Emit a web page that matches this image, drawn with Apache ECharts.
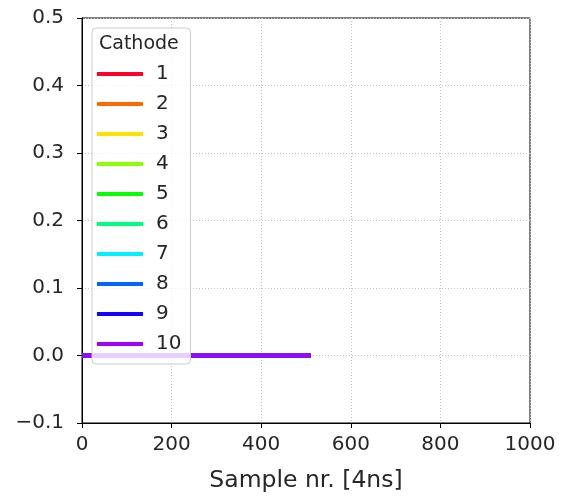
<!DOCTYPE html>
<html>
<head>
<meta charset="utf-8">
<script src="https://cdn.jsdelivr.net/npm/echarts@6/dist/echarts.min.js"></script>
<style>
  html, body { margin: 0; padding: 0; background: #fff; }
  #chart { width: 562px; height: 498px; }
</style>
</head>
<body>
<div id="chart"></div>
<script>
// Cathode channels and their trace colours
const cathodes = ['1', '2', '3', '4', '5', '6', '7', '8', '9', '10'];
const cathodeColors = ['#ff0029', '#ff6a00', '#ffe100', '#8cff00', '#0aff00',
                       '#00ff80', '#00f0ff', '#0064ff', '#1400ff', '#a400ff'];
// First and last sample of each recorded trace, and the signal level at each
const sampleNumbers = [0, 511];
const cathodeSignals = [
  [0, 0], [0, 0], [0, 0], [0, 0], [0, 0],
  [0, 0], [0, 0], [0, 0], [0, 0], [0, 0]
];
// Axis ticks
const xTicks = [0, 200, 400, 600, 800, 1000];
const yTicks = [-0.1, 0.0, 0.1, 0.2, 0.3, 0.4, 0.5];

const FONT = 'DejaVu Sans';
const TEXT = '#262626';
const LINE_W = 4;
const chart = echarts.init(document.getElementById('chart'), null, { renderer: 'canvas' });

const series = cathodes.map((name, i) => ({
  name: name,
  type: 'line',
  data: sampleNumbers.map((s, k) => [s, cathodeSignals[i][k]]),
  showSymbol: false,
  symbol: 'none',
  lineStyle: { color: cathodeColors[i], width: LINE_W },
  itemStyle: { color: cathodeColors[i] },
  animation: false,
  z: 3
}));

const gridLine = { show: true, lineStyle: { color: '#c4c4c4', type: [1, 2], width: 1 } };

chart.setOption({
  animation: false,
  backgroundColor: '#fff',
  grid: {
    left: 82, right: 32, top: 18, bottom: 75,
    show: true, borderColor: '#000', borderWidth: 1
  },
  xAxis: {
    type: 'value',
    min: xTicks[0], max: xTicks[xTicks.length - 1], interval: 200,
    name: 'Sample nr. [4ns]',
    nameLocation: 'middle',
    nameGap: 46,
    nameTextStyle: { fontFamily: FONT, fontSize: 23.5, color: TEXT },
    axisLine: { show: true, onZero: false, lineStyle: { color: '#000', width: 1 } },
    axisTick: { show: true, inside: false, length: 5, lineStyle: { color: '#000' } },
    axisLabel: {
      fontFamily: FONT, fontSize: 20, color: TEXT, margin: 12,
      formatter: v => String(v)
    },
    splitLine: gridLine
  },
  yAxis: {
    type: 'value',
    min: yTicks[0], max: yTicks[yTicks.length - 1], interval: 0.1,
    axisLine: { show: true, onZero: false, lineStyle: { color: '#000', width: 1 } },
    axisTick: { show: true, inside: false, length: 5, lineStyle: { color: '#000' } },
    axisLabel: {
      fontFamily: FONT, fontSize: 20, color: TEXT, margin: 18,
      formatter: v => {
        const s = Math.abs(v) < 1e-9 ? '0.0' : v.toFixed(1);
        return s.replace('-', '\u2212');
      }
    },
    splitLine: gridLine
  },
  legend: {
    data: cathodes,
    orient: 'vertical',
    left: 92, top: 28,
    padding: [36, 9, 10, 5],
    itemWidth: 46, itemHeight: LINE_W, itemGap: 10,
    icon: 'rect',
    textStyle: { fontFamily: FONT, fontSize: 20, color: TEXT, lineHeight: 20, padding: [0, 0, 0, 8] },
    backgroundColor: 'rgba(255,255,255,0.8)',
    borderColor: '#cccccc', borderWidth: 1, borderRadius: 4,
    z: 10
  },
  graphic: [{
    type: 'text',
    left: 99, top: 35,
    z: 20,
    style: { text: 'Cathode', fontFamily: FONT, fontSize: 19, fill: TEXT }
  }],
  series: series
});
</script>
</body>
</html>
